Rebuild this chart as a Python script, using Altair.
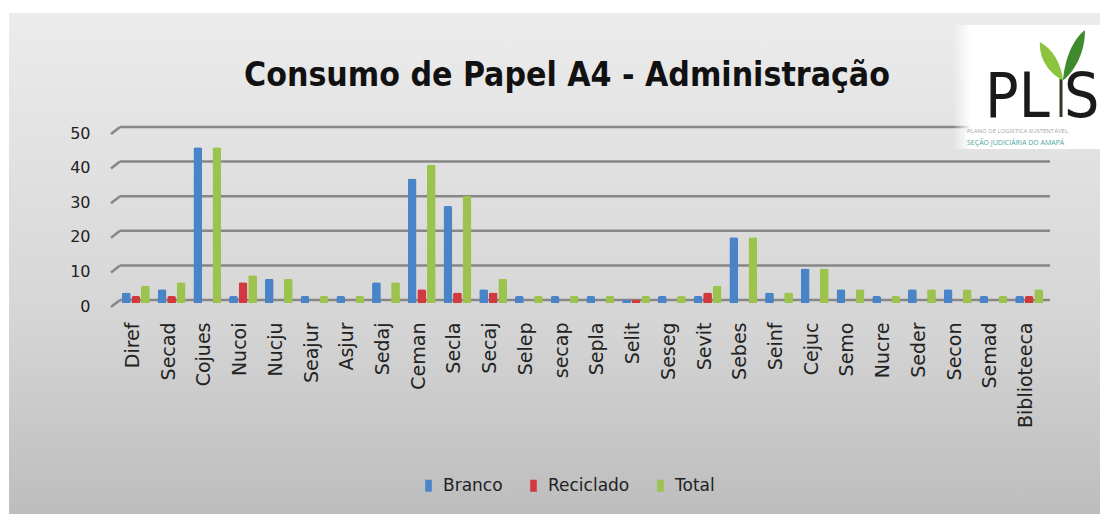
import altair as alt
import pandas as pd

categories = ["Diref", "Secad", "Cojues", "Nucoi", "Nucju", "Seajur", "Asjur", "Sedaj",
              "Ceman", "Secla", "Secaj", "Selep", "secap", "Sepla", "Selit", "Seseg",
              "Sevit", "Sebes", "Seinf", "Cejuc", "Semo", "Nucre", "Seder", "Secon",
              "Semad", "Biblioteeca"]
branco = [3, 4, 45, 2, 7, 2, 2, 6, 36, 28, 4, 2, 2, 2, 1, 2, 2, 19, 3, 10, 4, 2, 4, 4, 2, 2]
reciclado = [2, 2, 0, 6, 0, 0, 0, 0, 4, 3, 3, 0, 0, 0, 1, 0, 3, 0, 0, 0, 0, 0, 0, 0, 0, 2]
total = [5, 6, 45, 8, 7, 2, 2, 6, 40, 31, 7, 2, 2, 2, 2, 2, 5, 19, 3, 10, 4, 2, 4, 4, 2, 4]
series = ["Branco", "Reciclado", "Total"]
colors = ["#4a84c8", "#d2393e", "#9bc34d"]
y_ticks = [0, 10, 20, 30, 40, 50]
title_text = "Consumo de Papel A4 - Administração"
logo_line1 = "PLANO DE LOGÍSTICA SUSTENTÁVEL"
logo_line2 = "SEÇÃO JUDICIÁRIA DO AMAPÁ"

rows = []
for i, c in enumerate(categories):
    for s, vals in zip(series, [branco, reciclado, total]):
        rows.append({"cat": c, "serie": s, "valor": vals[i]})
df = pd.DataFrame(rows)
grid_df = pd.DataFrame({"v": y_ticks})
one = pd.DataFrame({"a": [0]})

W, H = 929, 173
PL, PT, PR, PB = 110, 122, 53, 211
COND = "'Noto Sans Condensed', 'DejaVu Sans Condensed', 'Open Sans', sans-serif"
LAB = "DejaVu Sans"

y_scale = alt.Scale(domain=[0, 50], nice=False, zero=True)
y_axis = alt.Axis(values=y_ticks, grid=False, domain=False, ticks=False, labelPadding=28,
                  labelFontSize=16, labelFont=LAB, labelColor="#222222",
                  labelOffset=3, title=None, zindex=2)

bg = alt.Chart(one).mark_rect(
    fill=alt.Gradient(gradient="linear",
                      stops=[alt.GradientStop(color="#ececec", offset=0),
                             alt.GradientStop(color="#d6d6d6", offset=0.6),
                             alt.GradientStop(color="#bdbdbd", offset=1)],
                      x1=0, x2=0, y1=0, y2=1)
).encode(x=alt.value(-109), x2=alt.value(W + PR), y=alt.value(-117), y2=alt.value(H + PB))

grid = alt.Chart(grid_df).mark_rule(color="#878787", strokeWidth=2.5, yOffset=-3).encode(
    y=alt.Y("v:Q", scale=y_scale, axis=y_axis),
    x=alt.value(2), x2=alt.value(W + 3))

slant = alt.Chart(grid_df).mark_rule(color="#878787", strokeWidth=2.5, yOffset=4, y2Offset=-3).encode(
    y=alt.Y("v:Q", scale=y_scale, axis=y_axis), y2="v:Q",
    x=alt.value(-7), x2=alt.value(2))

logo_box = alt.Chart(one).mark_rect(
    fill=alt.Gradient(gradient="linear",
                      stops=[alt.GradientStop(color="rgba(255,255,255,0)", offset=0),
                             alt.GradientStop(color="#ffffff", offset=0.12),
                             alt.GradientStop(color="#ffffff", offset=1)],
                      x1=0, x2=1, y1=0, y2=0)
).encode(x=alt.value(835), x2=alt.value(W + PR), y=alt.value(-105), y2=alt.value(19))

bars = alt.Chart(df).mark_bar(cornerRadiusTopLeft=2, cornerRadiusTopRight=2).encode(
    x=alt.X("cat:N", sort=categories,
            scale=alt.Scale(paddingInner=0.22, paddingOuter=0.11),
            axis=alt.Axis(title=None, labelAngle=270, labelAlign="right", labelBaseline="middle",
                          labelPadding=19, domain=False, ticks=False, labelFontSize=19,
                          labelFont=LAB, labelColor="#222222", labelOffset=-3,
                          labelOverlap=False, zindex=2)),
    xOffset=alt.XOffset("serie:N", sort=series, scale=alt.Scale(paddingInner=0.08)),
    y=alt.Y("valor:Q", scale=y_scale, axis=y_axis),
    color=alt.Color("serie:N", sort=series,
                    scale=alt.Scale(domain=series, range=colors),
                    legend=alt.Legend(orient="none", legendX=302, legendY=347,
                                      direction="horizontal", title=None,
                                      symbolType="M-0.55,-1H0.55V1H-0.55Z", symbolSize=144,
                                      symbolStrokeWidth=0, labelFontSize=17,
                                      labelFont=LAB, labelColor="#222222",
                                      columnPadding=22, labelOffset=6)))

title = alt.Chart(one).mark_text(
    font=COND, fontWeight="bold", fontSize=33.5, color="#111111",
    align="center", baseline="alphabetic").encode(
    x=alt.value(449), y=alt.value(-44), text=alt.value(title_text))

pl_text = alt.Chart(one).mark_text(
    font=COND, fontSize=62, color="#1a1a1a",
    align="left", baseline="alphabetic").encode(
    x=alt.value(867), y=alt.value(-13), text=alt.value("PL"))

s_text = alt.Chart(one).mark_text(
    font=COND, fontSize=62, color="#1a1a1a",
    align="left", baseline="alphabetic").encode(
    x=alt.value(946), y=alt.value(-13), text=alt.value("S"))

stem = alt.Chart(one).mark_rule(color="#2d3b22", strokeWidth=3).encode(
    x=alt.value(943), x2=alt.value(943), y=alt.value(-51), y2=alt.value(-13))

leaf_left = alt.Chart(one).mark_point(
    shape="M0,0.85C-0.5,0.6,-0.8,0.1,-0.77,-0.43C-0.35,-0.2,-0.05,0.3,0,0.85Z",
    filled=True, size=3600, color="#8cc43f", opacity=1).encode(
    x=alt.value(945), y=alt.value(-75))

leaf_right = alt.Chart(one).mark_point(
    shape="M0,0.85C0.05,0.2,0.3,-0.5,0.73,-0.83C0.75,-0.2,0.45,0.5,0,0.85Z",
    filled=True, size=3600, color="#3f8a2c", opacity=1).encode(
    x=alt.value(945), y=alt.value(-75))

small1 = alt.Chart(one).mark_text(
    font="Open Sans", fontSize=6, color="#a0a8a8", align="left", baseline="middle").encode(
    x=alt.value(849), y=alt.value(1), text=alt.value(logo_line1))

small2 = alt.Chart(one).mark_text(
    font="Open Sans", fontSize=7, color="#4da6a0", align="left", baseline="middle").encode(
    x=alt.value(849), y=alt.value(13), text=alt.value(logo_line2))

chart = alt.layer(bg, grid, slant, logo_box, bars, title, pl_text, s_text, stem,
                  leaf_left, leaf_right, small1, small2).properties(
    width=W, height=H,
    padding={"left": PL, "top": PT, "right": PR, "bottom": PB},
    autosize=alt.AutoSizeParams(type="none"),
    background="white",
).configure_view(stroke=None)

chart.save("out.html", embed_options={"renderer": "svg", "actions": False})
